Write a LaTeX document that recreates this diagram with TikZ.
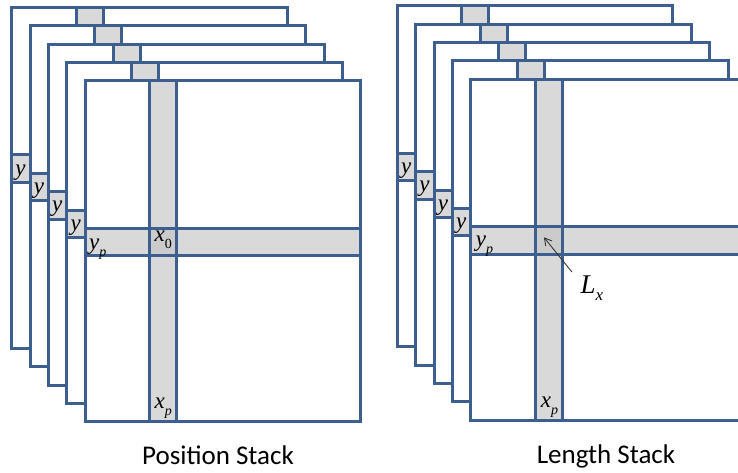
\documentclass[tikz,border=0pt]{standalone}
\usepackage{fontspec}
\setmainfont{Liberation Serif}
\newfontfamily\titlefont{Carlito}
\usetikzlibrary{arrows.meta}
\definecolor{fb}{HTML}{3D5F8F}
\definecolor{stripegrey}{HTML}{D9D9D9}
\definecolor{crossgrey}{HTML}{CBCBCB}
\tikzset{
  frameline/.style={draw=fb, line width=3pt, line join=miter},
  stripefill/.style={fill=stripegrey},
  crossfill/.style={fill=crossgrey},
  lbl/.style={font=\fontsize{23}{23}\selectfont\itshape, inner sep=0pt},
  biglbl/.style={font=\fontsize{27}{27}\selectfont\itshape, inner sep=0pt},
  ttl/.style={font=\titlefont\fontsize{27}{27}\selectfont, inner sep=0pt},
  pointer/.style={draw=black!80, line width=0.9pt, -{Straight Barb[length=7pt,width=8pt]}},
}
\newcommand\subs[1]{\raisebox{-0.3em}{\fontsize{14}{14}\selectfont #1}}
\newcommand\bigsubs[1]{\raisebox{-0.25em}{\fontsize{17}{17}\selectfont #1}}
\newcommand\oneframe{%
  \fill[white] (0,0) rectangle (275.5,341);
  \fill[stripefill] (64.5,0) rectangle (91.5,341);
  \fill[stripefill] (0,147.5) rectangle (275.5,175);
  \fill[crossfill] (64.5,147.5) rectangle (91.5,175);
  \draw[frameline] (64.5,0) -- (64.5,341) (91.5,0) -- (91.5,341)
                   (0,147.5) -- (275.5,147.5) (0,175) -- (275.5,175);
  \draw[frameline] (0,0) rectangle (275.5,341);
}
\begin{document}
\begin{tikzpicture}[x=1pt,y=-1pt]
\clip (0,0) rectangle (738,472);
\fill[white] (0,0) rectangle (738,472);
% ---- Position stack
\foreach \i in {0,...,3}{
  \begin{scope}[shift={({11.7+18.4*\i},{7.3+18.4*\i})}]
    \oneframe
    \node[lbl] (yA\i) at (8.8,165) {y};
  \end{scope}
}
\begin{scope}[shift={(85.3,80.9)}]
  \oneframe
  \node[lbl] (ypA) at (12.5,168) {y\subs{p}};
  \node[lbl] (x0A) at (78,159) {x\subs{\upshape 0}};
  \node[lbl] (xpA) at (78,327) {x\subs{p}};
\end{scope}
\node[ttl] (titleA) at (218,455) {Position Stack};
% ---- Length stack
\foreach \i in {0,...,3}{
  \begin{scope}[shift={({397.3+18.4*\i},{5.7+18.4*\i})}]
    \oneframe
    \node[lbl] (yB\i) at (8.8,165) {y};
  \end{scope}
}
\begin{scope}[shift={(470.9,79.3)}]
  \oneframe
  \node[lbl] (ypB) at (13.5,167) {y\subs{p}};
  \node[lbl] (xpB) at (78.5,328) {x\subs{p}};
  \node[biglbl] (LxB) at (121,209) {L\bigsubs{x}};
  \coordinate (tailB) at (101,192.7);
  \coordinate (tipB) at (73,158);
  \draw[pointer] (tailB) -- (tipB);
\end{scope}
\node[ttl] (titleB) at (606,456) {Length Stack};
\end{tikzpicture}
\end{document}
